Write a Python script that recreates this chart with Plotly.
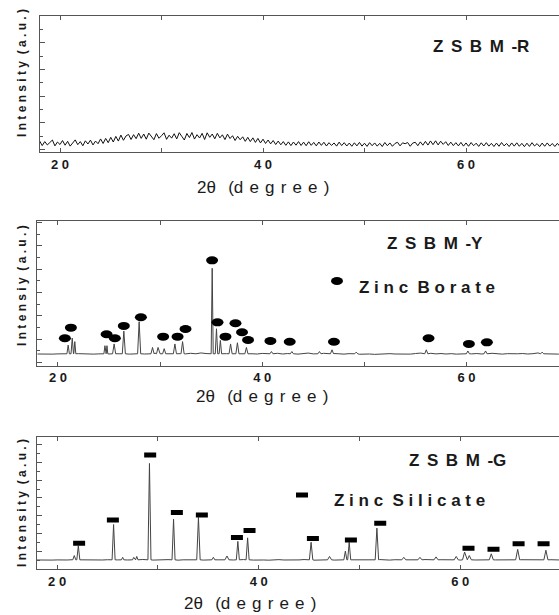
import plotly.graph_objects as go

W, H = 559, 615

# ---------------- data ----------------
# Panel R (amorphous) : intensity sampled every 0.25 deg from 18.0
R_START, R_STEP = 18.0, 0.25
R_vals = [
    0.62,0.28,0.58,0.33, 0.51,0.70,0.26,0.55, 0.36,0.66,0.31,0.60, 0.24,0.52,0.71,0.35,
    0.58,0.27,0.64,0.40, 0.69,0.33,0.62,0.42, 0.78,0.44,0.82,0.50, 0.90,0.55,0.97,0.62,
    1.07,0.68,1.00,1.12, 0.74,1.10,0.80,1.21, 0.82,1.15,0.76,1.22, 0.95,0.72,1.18,0.83,
    1.02,1.24,0.75,1.06, 0.84,1.17,0.78,1.25, 0.97,0.70,1.19,0.88, 1.26,0.77,1.10,0.85,
    1.20,0.74,1.24,0.90, 1.15,0.79,1.20,0.86, 1.09,0.73,1.14,0.81, 1.02,0.66,0.98,0.72,
    0.94,0.60,0.90,0.58, 0.86,0.52,0.82,0.48, 0.76,0.44,0.70,0.41, 0.66,0.36,0.62,0.34,
    0.58,0.30,0.56,0.28, 0.55,0.31,0.58,0.29, 0.54,0.27,0.57,0.30, 0.52,0.26,0.55,0.30,
    0.53,0.25,0.50,0.29, 0.48,0.24,0.54,0.28, 0.50,0.25,0.47,0.23, 0.49,0.26,0.52,0.24,
    0.46,0.22,0.50,0.27, 0.48,0.24,0.45,0.21, 0.51,0.27,0.48,0.23, 0.44,0.53,0.26,0.49,
    0.42,0.51,0.23,0.47, 0.53,0.27,0.56,0.31, 0.60,0.32,0.63,0.35, 0.64,0.33,0.61,0.37,
    0.57,0.29,0.54,0.28, 0.50,0.26,0.52,0.24, 0.48,0.23,0.51,0.27, 0.46,0.22,0.49,0.25,
    0.50,0.24,0.45,0.21, 0.47,0.23,0.51,0.26, 0.44,0.21,0.48,0.24, 0.49,0.23,0.45,0.20,
    0.46,0.22,0.50,0.25, 0.43,0.20,0.47,0.23, 0.48,0.24,0.44,0.21, 0.45,0.22,0.49,0.25,
    0.44,
]

# Panel Y : baseline every 0.5 deg from 18.0, plus peaks
Y_START, Y_STEP = 18.0, 0.5
Y_base = [
    0.74,0.72,0.76,0.73,0.75,0.78,0.74,0.72,0.77,0.74,0.76,0.73,0.75,0.79,0.74,0.72,0.76,0.78,0.73,0.75,
    0.80,0.74,0.77,0.82,0.76,0.79,0.74,0.81,0.77,0.75,0.80,0.76,0.83,0.78,0.76,0.80,0.84,0.77,0.79,0.75,
    0.78,0.82,0.76,0.74,0.79,0.75,0.77,0.80,0.74,0.78,0.76,0.73,0.79,0.82,0.75,0.77,0.80,0.74,0.78,0.76,
    0.73,0.77,0.75,0.72,0.76,0.74,0.71,0.75,0.73,0.77,0.74,0.72,0.76,0.73,0.78,0.82,0.76,0.80,0.75,0.78,
    0.74,0.77,0.73,0.76,0.79,0.75,0.78,0.74,0.77,0.80,0.75,0.73,0.77,0.74,0.76,0.78,0.74,0.77,0.83,0.76,
    0.74,0.77,0.73,0.76,0.75,
]
Y_FOOT = 0.76
Y_peak_pos = [21.0, 21.4, 21.65, 24.6, 24.8, 25.5, 26.45, 27.95, 29.26, 29.8, 30.4, 31.45, 32.2,
              35.1, 35.52, 35.9, 36.9, 37.57, 38.45, 40.9, 42.9, 45.6, 46.83, 49.2, 56.06, 60.13, 61.86, 67.4]
Y_peak_int = [1.5, 2.1, 1.8, 1.45, 1.45, 1.6, 2.7, 3.5, 1.3, 1.3, 1.2, 1.6, 1.8,
              8.07, 2.9, 1.9, 1.6, 1.7, 1.3, 0.95, 0.95, 0.95, 1.1, 0.9, 1.1, 1.0, 1.0, 0.9]
Y_peak_hw = [0.12, 0.12, 0.1, 0.1, 0.08, 0.15, 0.15, 0.15, 0.15, 0.15, 0.15, 0.15, 0.15,
             0.1, 0.12, 0.12, 0.15, 0.15, 0.15, 0.15, 0.15, 0.15, 0.15, 0.15, 0.15, 0.15, 0.15, 0.15]
# zinc borate markers
ZB_x = [20.68, 21.27, 24.76, 25.57, 26.45, 28.12, 30.3, 31.71, 32.49, 35.09, 35.62, 36.4, 37.38,
        38.02, 38.61, 40.8, 42.69, 47.02, 56.28, 60.23, 61.99]
ZB_y = [2.09, 2.99, 2.43, 2.09, 3.14, 3.88, 2.22, 2.22, 2.88, 8.75, 3.45, 2.22, 3.37,
        2.6, 1.94, 1.85, 1.79, 1.79, 2.09, 1.6, 1.74]

# Panel G : baseline every 0.5 deg from 18.0, plus peaks
G_START, G_STEP = 18.0, 0.5
G_base = [
    1.00,0.98,1.02,0.99,1.01,0.97,1.00,1.03,0.99,1.01,1.05,1.02,0.98,1.00,1.03,0.99,1.01,1.04,1.00,0.98,
    1.02,1.06,1.01,0.99,1.03,1.00,1.04,1.01,0.98,1.02,1.05,1.00,1.03,0.99,1.01,1.06,1.02,1.08,1.03,1.00,
    1.02,1.05,1.01,0.99,1.03,1.00,0.98,1.02,1.04,1.00,0.99,1.03,1.01,1.05,1.00,0.98,1.02,1.04,1.01,0.99,
    1.02,1.00,1.04,1.01,0.99,1.03,1.00,1.02,1.05,1.01,0.99,1.03,1.00,1.04,1.02,0.99,1.01,1.05,1.02,1.00,
    1.03,1.00,1.04,1.01,0.99,1.06,1.03,1.00,1.02,0.99,1.03,1.01,1.00,1.04,1.02,0.99,1.03,1.01,1.00,1.04,
    1.02,0.99,1.03,1.01,1.00,
]
G_FOOT = 1.02
G_peak_pos = [21.7, 22.1, 25.6, 26.5, 27.6, 27.9, 29.16, 31.55, 34.02, 35.5, 36.85, 37.93, 38.9,
              45.2, 47.03, 48.6, 48.98, 51.73, 54.4, 56.0, 57.6, 59.6, 60.43, 60.9, 63.08, 65.7, 68.5]
G_peak_int = [1.5, 2.6, 5.0, 1.3, 1.3, 1.4, 11.9, 5.6, 5.8, 1.3, 1.45, 3.1, 3.5,
              3.0, 1.4, 2.0, 3.0, 4.6, 1.3, 1.3, 1.35, 1.4, 1.9, 1.5, 1.7, 2.2, 2.1]
G_peak_hw = [0.15, 0.15, 0.15, 0.12, 0.12, 0.12, 0.15, 0.15, 0.17, 0.15, 0.2, 0.15, 0.15,
             0.17, 0.2, 0.15, 0.15, 0.17, 0.2, 0.2, 0.2, 0.2, 0.2, 0.2, 0.2, 0.2, 0.2]
# zinc silicate markers
ZS_x = [22.18, 25.53, 29.23, 31.88, 34.36, 37.84, 39.09, 45.38, 49.15, 52.06, 60.82, 63.3, 65.79, 68.27]
ZS_y = [2.9, 5.52, 12.85, 6.35, 6.09, 3.53, 4.32, 3.42, 3.27, 5.15, 2.33, 2.22, 2.82, 2.82]

X_TICKS = [20, 30, 40, 50, 60]
X_TICKTEXT = ["2 0", "", "4 0", "", "6 0"]


def grid(start, step, vals):
    return [start + step * i for i in range(len(vals))]


def build(bx, by, pos, inten, hw, foot):
    pts = [(x, y) for x, y in zip(bx, by)
           if not any(p - w <= x <= p + w for p, w in zip(pos, hw))]
    for p, h, w in zip(pos, inten, hw):
        pts += [(p - w, foot), (p, h), (p + w, foot)]
    pts.sort()
    return [p[0] for p in pts], [p[1] for p in pts]


R_x = grid(R_START, R_STEP, R_vals)
Yx, Yy = build(grid(Y_START, Y_STEP, Y_base), Y_base, Y_peak_pos, Y_peak_int, Y_peak_hw, Y_FOOT)
Gx, Gy = build(grid(G_START, G_STEP, G_base), G_base, G_peak_pos, G_peak_int, G_peak_hw, G_FOOT)

fig = go.Figure()
fig.add_trace(go.Scatter(x=R_x, y=R_vals, mode="lines", line=dict(color="#111", width=1),
                         xaxis="x", yaxis="y", hoverinfo="skip"))
fig.add_trace(go.Scatter(x=Yx, y=Yy, mode="lines", line=dict(color="#444", width=1),
                         xaxis="x2", yaxis="y2", hoverinfo="skip"))
fig.add_trace(go.Scatter(x=Gx, y=Gy, mode="lines", line=dict(color="#444", width=1),
                         xaxis="x3", yaxis="y3", hoverinfo="skip"))

def px_x(px):
    return px / W

def px_y(py):
    return 1 - py / H

AX = "#555"
tickfont = dict(family="Liberation Sans, Arial", size=13, color="#1a1a1a", weight="bold")

def xaxis(dom_left, rng, anchor):
    return dict(domain=[dom_left, 1], range=rng, anchor=anchor, tickmode="array",
                tickvals=X_TICKS, ticktext=X_TICKTEXT, ticks="inside", ticklen=4,
                tickcolor=AX, showline=True, linecolor=AX, linewidth=1.3, mirror="ticks",
                showgrid=False, zeroline=False, tickfont=tickfont)

def yaxis(dom, rng, anchor):
    return dict(domain=dom, range=rng, anchor=anchor, tick0=0, dtick=2, ticks="inside",
                ticklen=5, tickcolor=AX, showticklabels=False, showline=True, linecolor=AX,
                linewidth=1.3, showgrid=False, zeroline=False,
                minor=dict(dtick=1, ticks="inside", ticklen=3, tickcolor=AX, showgrid=False))

fig.update_layout(
    width=W, height=H, margin=dict(l=0, r=0, t=0, b=0),
    paper_bgcolor="white", plot_bgcolor="white", showlegend=False,
    xaxis=xaxis(40 / W, [18.03, 69.16], "y"),
    yaxis=yaxis([px_y(152), px_y(16)], [-0.2, 10], "x"),
    xaxis2=xaxis(37 / W, [17.95, 69.05], "y2"),
    yaxis2=yaxis([px_y(365.7), px_y(220.7)], [-0.26, 12.14], "x2"),
    xaxis3=xaxis(37 / W, [18.0, 69.8], "y3"),
    yaxis3=yaxis([px_y(569.3), px_y(437.3)], [-0.05, 14.85], "x3"),
)

shapes = []
for x, y in zip(ZB_x, ZB_y):
    shapes.append(dict(type="circle", xref="x2", yref="y2", xsizemode="pixel", ysizemode="pixel",
                       xanchor=x, yanchor=y, x0=-6, x1=6, y0=-4, y1=4,
                       fillcolor="black", line=dict(width=0)))
for x, y in zip(ZS_x, ZS_y):
    shapes.append(dict(type="rect", xref="x3", yref="y3", xsizemode="pixel", ysizemode="pixel",
                       xanchor=x, yanchor=y, x0=-6, x1=6, y0=-2.5, y1=2.5,
                       fillcolor="black", line=dict(width=0)))
# legend symbols
shapes.append(dict(type="circle", xref="paper", yref="paper", xsizemode="pixel", ysizemode="pixel",
                   xanchor=px_x(337), yanchor=px_y(281), x0=-6, x1=6, y0=-4, y1=4,
                   fillcolor="black", line=dict(width=0)))
shapes.append(dict(type="rect", xref="paper", yref="paper", xsizemode="pixel", ysizemode="pixel",
                   xanchor=px_x(302), yanchor=px_y(495), x0=-6, x1=6, y0=-2.5, y1=2.5,
                   fillcolor="black", line=dict(width=0)))
fig.update_layout(shapes=shapes)

bold = dict(family="Liberation Sans, Arial", color="#1a1a1a", weight="bold")
reg = dict(family="Liberation Sans, Arial", color="#1a1a1a")

ann = []
def add(text, px, py, size, font, xanchor="center", angle=0):
    ann.append(dict(text=text, x=px_x(px), y=px_y(py), xref="paper", yref="paper",
                    xanchor=xanchor, yanchor="middle", showarrow=False, textangle=angle,
                    font=dict(size=size, **font)))

ylab = "I n t e n s i t y  ( a . u . )"
ylab2 = "I n t e n s i y  ( a . u . )"
add(ylab, 22, 73, 12, bold, angle=-90)
add(ylab2, 22, 286, 12, bold, angle=-90)
add(ylab, 22, 503, 12, bold, angle=-90)

G = "\u200a "
xlab = "2θ" + G + G + "(" + G.join("degree") + G + ")"
add(xlab, 263, 188, 17, reg)
add(xlab, 262, 396, 17, reg)
add(xlab, 250, 603, 17, reg)

S = "\u2006 "
add(S.join(["Z", "S", "B", "M", "-R"]), 480.5, 46, 17, bold)
add(S.join(["Z", "S", "B", "M", "-Y"]), 434.5, 243, 17, bold)
add(S.join(["Z", "S", "B", "M", "-G"]), 457, 460, 17, bold)
add("Z i n c  B o r a t e", 357, 287, 17, bold, xanchor="left")
add("Z i n c  S i l i c a t e", 332, 500.7, 17, bold, xanchor="left")
fig.update_layout(annotations=ann)

fig.write_html("out.html")
